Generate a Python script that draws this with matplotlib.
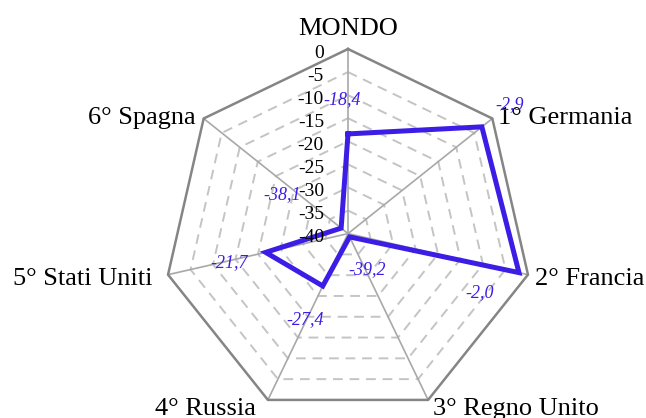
import numpy as np
import matplotlib
matplotlib.use("Agg")
import matplotlib.pyplot as plt

# ---- data ----
categories = ["MONDO", "1° Germania", "2° Francia", "3° Regno Unito",
              "4° Russia", "5° Stati Uniti", "6° Spagna"]
values = [-18.4, -2.9, -2.0, -39.2, -27.4, -21.7, -38.1]
value_labels = ["-18,4", "-2,9", "-2,0", "-39,2", "-27,4", "-21,7", "-38,1"]
tick_values = [0, -5, -10, -15, -20, -25, -30, -35, -40]
tick_labels = ["0", "-5", "-10", "-15", "-20", "-25", "-30", "-35", "-40"]
r_min, r_max = -40, 0

# ---- style / layout ----
plt.rcParams["font.family"] = ["Liberation Serif", "DejaVu Serif"]
line_color = "#3b1de6"
label_color = "#3b1de6"
# pixel offsets of value labels from their points (x, y up)
value_label_offsets = [(-6, 34), (28, 22), (-39, -20), (17, -33),
                       (-18, -34), (-37, -10), (-59, 34)]
# category label placement: (dx, dy baseline, ha)
cat_label_place = [(0, 14, "center"), (6, -5, "left"), (7, -10, "left"),
                   (5, -15, "left"), (-12, -15, "right"), (-16, -10, "right"),
                   (-8, -5, "right")]

n = len(categories)
angles = np.arange(n) * 2 * np.pi / n


def to_xy(v, th):
    r = v - r_min
    return r * np.sin(th), r * np.cos(th)


W, H = 646, 418
cx, cy, Rpx = 348, 233.6, 184.6
ppu = Rpx / (r_max - r_min)

fig = plt.figure(figsize=(W / 100, H / 100), dpi=100)
ax = fig.add_axes([0, 0, 1, 1])
ax.set_xlim(-cx / ppu, (W - cx) / ppu)
ax.set_ylim(-(H - cy) / ppu, cy / ppu)
ax.axis("off")

# dashed inner rings
for t in tick_values[1:-1]:
    xs, ys = to_xy(np.full(n + 1, t), np.append(angles, angles[0]))
    ax.plot(xs, ys, color="#c4c4c4", lw=1.4, ls=(0, (5, 3.5)), zorder=1)

# spokes
for th in angles:
    xs, ys = to_xy(np.array([r_min, r_max]), np.array([th, th]))
    ax.plot(xs, ys, color="#a8a8a8", lw=1.2, zorder=2)

# outer ring
xs, ys = to_xy(np.full(n + 1, r_max), np.append(angles, angles[0]))
ax.plot(xs, ys, color="#858585", lw=1.8, zorder=2)

# data polygon
vals = np.array(values + [values[0]])
xs, ys = to_xy(vals, np.append(angles, angles[0]))
ax.plot(xs, ys, color=line_color, lw=3.6, zorder=4, solid_joinstyle="miter")

# tick labels along the top axis
for t, lab in zip(tick_values, tick_labels):
    x, y = to_xy(t, 0.0)
    ax.annotate(lab, (x, y), xytext=(-24, -8.5), textcoords="offset pixels",
                ha="right", va="baseline", fontsize=14, color="black", zorder=5)

# category labels
for th, cat, (dx, dy, ha) in zip(angles, categories, cat_label_place):
    x, y = to_xy(r_max, th)
    ax.annotate(cat, (x, y), xytext=(dx, dy), textcoords="offset pixels",
                ha=ha, va="baseline", fontsize=19, color="black")

# value labels
for th, v, lab, (dx, dy) in zip(angles, values, value_labels, value_label_offsets):
    x, y = to_xy(v, th)
    ax.annotate(lab, (x, y), xytext=(dx, dy), textcoords="offset pixels",
                ha="center", va="center", fontsize=13, style="italic",
                color=label_color, zorder=6)

fig.savefig("out.png", dpi=100)
